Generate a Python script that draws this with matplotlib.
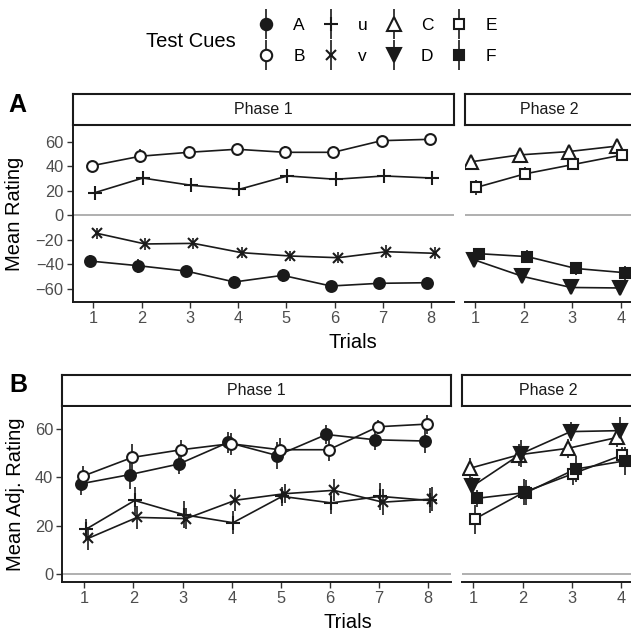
import matplotlib
matplotlib.use("Agg")
import matplotlib.pyplot as plt
from matplotlib.lines import Line2D
from matplotlib.legend_handler import HandlerTuple
import numpy as np

plt.rcParams['font.family'] = ['Liberation Sans', 'DejaVu Sans']

# ---------------- data ----------------
trials_p1 = [1, 2, 3, 4, 5, 6, 7, 8]
trials_p2 = [1, 2, 3, 4]

cues_p1 = ['A', 'B', 'u', 'v']
cues_p2 = ['C', 'D', 'E', 'F']

rating_A = [-37.3, -41.1, -45.5, -54.4, -49.0, -57.7, -55.5, -55.0]
rating_B = [40.5, 48.2, 51.4, 53.9, 51.4, 51.4, 60.9, 62.0]
rating_u = [18.4, 30.4, 24.5, 21.2, 32.1, 29.4, 32.1, 30.4]
rating_v = [-14.7, -23.4, -22.9, -30.5, -33.2, -34.6, -29.7, -31.0]
rating_C = [43.7, 49.3, 52.0, 56.5]
rating_D = [-36.2, -49.8, -58.9, -59.3]
rating_E = [22.7, 33.8, 41.5, 49.2]
rating_F = [-31.3, -33.7, -43.4, -46.8]

se_A = [4.5, 5.8, 4.3, 4.5, 5.5, 4.1, 4.1, 4.8]
se_B = [4.0, 5.5, 4.0, 4.5, 4.8, 4.7, 3.0, 3.9]
se_u = [4.5, 5.5, 5.5, 4.8, 4.0, 4.4, 5.5, 5.0]
se_v = [4.7, 4.8, 4.5, 4.5, 4.0, 4.5, 5.5, 5.0]
se_C = [4.1, 4.5, 4.0, 4.0]
se_D = [4.0, 5.5, 3.9, 5.8]
se_E = [6.0, 5.3, 4.5, 3.5]
se_F = [3.5, 5.3, 5.5, 5.8]

# cues trained with negative outcome (adjusted rating = sign flipped)
negative_cues = ['A', 'v', 'D', 'F']

ratings = {'A': rating_A, 'B': rating_B, 'u': rating_u, 'v': rating_v,
           'C': rating_C, 'D': rating_D, 'E': rating_E, 'F': rating_F}
ses = {'A': se_A, 'B': se_B, 'u': se_u, 'v': se_v,
       'C': se_C, 'D': se_D, 'E': se_E, 'F': se_F}

yticks_A = [-60, -40, -20, 0, 20, 40, 60]
yticks_B = [0, 20, 40, 60]

# ---------------- styles ----------------
style = {
    'A': dict(marker='o', ms=7.8, mfc='#1a1a1a', mec='#1a1a1a'),
    'B': dict(marker='o', ms=7.8, mfc='white', mec='#1a1a1a'),
    'u': dict(marker='+', ms=10, mfc='none', mec='#1a1a1a'),
    'v': dict(marker='x', ms=7.5, mfc='none', mec='#1a1a1a'),
    'C': dict(marker='^', ms=9.8, mfc='white', mec='#1a1a1a'),
    'D': dict(marker='v', ms=9.8, mfc='#1a1a1a', mec='#1a1a1a'),
    'E': dict(marker='s', ms=7.2, mfc='white', mec='#1a1a1a'),
    'F': dict(marker='s', ms=7.2, mfc='#1a1a1a', mec='#1a1a1a'),
}
dodge = [-0.075, -0.025, 0.025, 0.075]
INK = '#1a1a1a'
LW = 1.2

W = H = 631
fig = plt.figure(figsize=(W / 100, H / 100), dpi=100)


def px(x0, y0, x1, y1):
    return [x0 / W, 1 - y1 / H, (x1 - x0) / W, (y1 - y0) / H]


def strip(x0, y0, x1, y1, label):
    s = fig.add_axes(px(x0, y0, x1, y1))
    s.set_xticks([]); s.set_yticks([])
    s.set_facecolor('white')
    for sp in s.spines.values():
        sp.set_linewidth(1.5)
        sp.set_color(INK)
    s.text(0.5, 0.5, label, transform=s.transAxes, ha='center', va='center',
           fontsize=11.5, color='#1a1a1a')
    return s


def panel(rect, trials, cues, xlim, ylim, yticks, adjusted, show_y):
    ax = fig.add_axes(rect)
    ax.set_xlim(*xlim)
    ax.set_ylim(*ylim)
    ax.axhline(0, color='#9a9a9a', lw=1.1, zorder=1)
    for sp in ['top', 'right']:
        ax.spines[sp].set_visible(False)
    ax.spines['bottom'].set_linewidth(1.4)
    ax.spines['bottom'].set_color(INK)
    if show_y:
        ax.spines['left'].set_linewidth(1.4)
        ax.spines['left'].set_color(INK)
        ax.set_yticks(yticks)
        ax.set_yticklabels([str(t).replace('-', '\u2212') for t in yticks])
    else:
        ax.spines['left'].set_visible(False)
        ax.set_yticks([])
    ax.set_xticks(trials)
    ax.tick_params(axis='both', length=4, width=1.0, color='#333333',
                   labelcolor='#4d4d4d', labelsize=11.8, pad=2.5)
    for i, c in enumerate(cues):
        y = np.array(ratings[c], dtype=float)
        if adjusted and c in negative_cues:
            y = -y
        x = np.array(trials, dtype=float) + dodge[i]
        e = np.array(ses[c])
        ax.plot(x, y, color=INK, lw=LW, zorder=2)
        ax.errorbar(x, y, yerr=e, fmt='none', ecolor=INK, elinewidth=LW,
                    capsize=0, zorder=3)
        st = style[c]
        ax.plot(x, y, ls='none', marker=st['marker'], ms=st['ms'],
                mfc=st['mfc'], mec=st['mec'], mew=1.5, zorder=4)
    return ax


# ---------- Panel A ----------
strip(72.7, 94, 454, 125, 'Phase 1')
strip(465, 94, 634, 125, 'Phase 2')
panel(px(72.7, 126.7, 454, 301.7), trials_p1, cues_p1, (0.573, 8.477),
      (-70.5, 72.3), yticks_A, False, True)
panel(px(465, 126.7, 634, 301.7), trials_p2, cues_p2, (0.795, 4.27),
      (-70.5, 72.3), yticks_A, False, False)

# ---------- Panel B ----------
strip(62.3, 375, 450.7, 405.7, 'Phase 1')
strip(461.7, 375, 634, 405.7, 'Phase 2')
panel(px(62.3, 406.7, 450.7, 581.7), trials_p1, cues_p1, (0.552, 8.456),
      (-3.2, 69.2), yticks_B, True, True)
panel(px(461.7, 406.7, 634, 581.7), trials_p2, cues_p2, (0.764, 4.26),
      (-3.2, 69.2), yticks_B, True, False)

# ---------- titles ----------
fig.text(353.3 / W, 1 - 348 / H, 'Trials', ha='center', va='baseline',
         fontsize=14.5, color='black')
fig.text(348.2 / W, 1 - 628.3 / H, 'Trials', ha='center', va='baseline',
         fontsize=14.5, color='black')
fig.text(14.3 / W, 1 - 214.2 / H, 'Mean Rating', ha='center', va='center',
         rotation=90, fontsize=14.5, color='black')
fig.text(15.9 / W, 1 - 494.2 / H, 'Mean Adj. Rating', ha='center', va='center',
         rotation=90, fontsize=14.5, color='black')
fig.text(8 / W, 1 - 111.7 / H, 'A', ha='left', va='baseline', fontsize=18,
         fontweight='bold')
fig.text(9.5 / W, 1 - 391.7 / H, 'B', ha='left', va='baseline', fontsize=18,
         fontweight='bold')

# ---------- legend ----------
handles = []
labels = []
for c in cues_p1 + cues_p2:
    st = style[c]
    vline = Line2D([], [], ls='none', marker='|', ms=21.5, mew=1.2, color=INK)
    mk = Line2D([], [], ls='none', marker=st['marker'], ms=st['ms'] * 1.05,
                mfc=st['mfc'], mec=st['mec'], mew=1.5)
    handles.append((vline, mk))
    labels.append(c)

fig.legend(handles, labels, ncol=4, loc='center',
           bbox_to_anchor=(376.8 / W, 1 - 41.2 / H),
           frameon=False, fontsize=12.5, handlelength=1.2, handletextpad=0.95,
           columnspacing=0.9, labelspacing=0.92, borderpad=0, borderaxespad=0,
           handler_map={tuple: HandlerTuple(ndivide=1, pad=0)})
fig.text(191 / W, 1 - 41.5 / H, 'Test Cues', ha='center', va='center',
         fontsize=14.5, color='black')

fig.savefig('out.png', dpi=100)
